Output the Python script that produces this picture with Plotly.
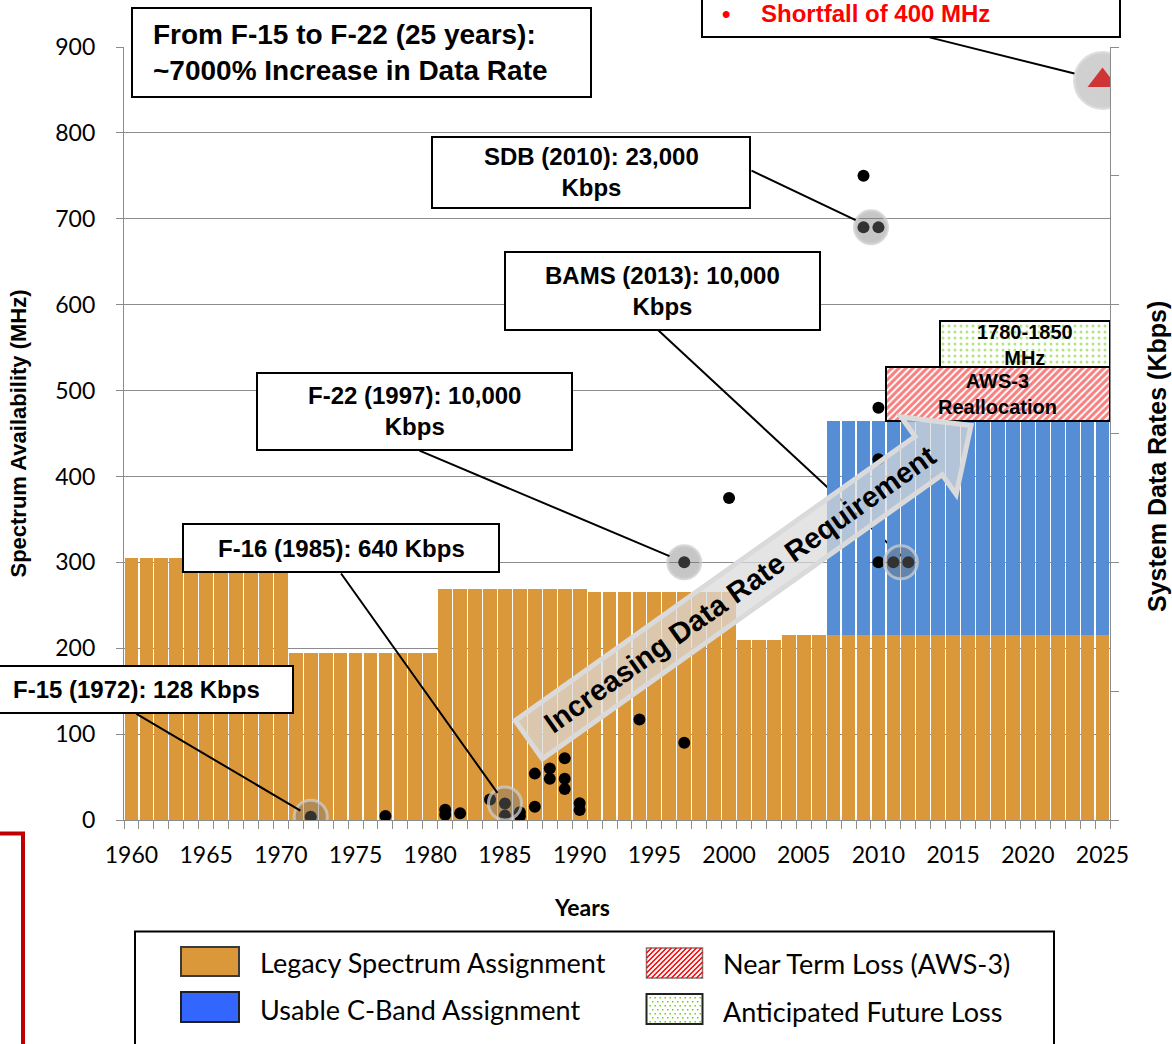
import math
import plotly.graph_objects as go

# ---------------- data ----------------
years = [1960, 1961, 1962, 1963, 1964, 1965, 1966, 1967, 1968, 1969,
         1970, 1971, 1972, 1973, 1974, 1975, 1976, 1977, 1978, 1979,
         1980, 1981, 1982, 1983, 1984, 1985, 1986, 1987, 1988, 1989,
         1990, 1991, 1992, 1993, 1994, 1995, 1996, 1997, 1998, 1999,
         2000, 2001, 2002, 2003, 2004, 2005, 2006, 2007, 2008, 2009,
         2010, 2011, 2012, 2013, 2014, 2015, 2016, 2017, 2018, 2019,
         2020, 2021, 2022, 2023, 2024, 2025]
legacy_mhz = [305, 305, 305, 305, 305, 305, 305, 305, 305, 305,
              305, 195, 195, 195, 195, 195, 195, 195, 195, 195,
              195, 269, 269, 269, 269, 269, 269, 269, 269, 269,
              269, 265, 265, 265, 265, 265, 265, 265, 265, 265,
              265, 210, 210, 210, 215, 215, 215, 215, 215, 215,
              215, 215, 215, 215, 215, 215, 215, 215, 215, 215,
              215, 215, 215, 215, 215, 215]
cband_years = [2007, 2008, 2009, 2010, 2011, 2012, 2013, 2014, 2015, 2016,
               2017, 2018, 2019, 2020, 2021, 2022, 2023, 2024, 2025]
cband_mhz = [250, 250, 250, 250, 250, 250, 250, 250, 250, 250,
             250, 250, 250, 250, 250, 250, 250, 250, 250]
aws3_years = [2010.5, 2025.5]      # near-term loss block (start, end)
aws3_mhz = [465, 528]              # (bottom, top)
future_years = [2014.15, 2025.5]   # anticipated future loss block
future_mhz = [528, 581]

sys_years = [1972, 1977, 1981, 1981, 1982, 1984, 1985, 1985, 1986, 1986,
             1987, 1987, 1988, 1988, 1989, 1989, 1989, 1990, 1990, 1994,
             1997, 1997, 2000, 2009, 2009, 2010, 2010, 2010, 2010, 2011, 2012]
sys_kbps = [128, 160, 400, 200, 260, 800, 640, 170, 300, 150,
            1800, 510, 2000, 1600, 2400, 1600, 1200, 650, 390, 3900,
            3000, 10000, 12500, 25000, 23000, 23000, 16000, 14000, 10000, 10000, 10000]
req_year = [2025]
req_kbps = [28700]
hl_years = [1972, 1985, 1997, 2009.5, 2011.5]
hl_kbps = [128, 640, 10000, 23000, 10000]
x_tick_years = [1960, 1965, 1970, 1975, 1980, 1985, 1990, 1995, 2000, 2005,
                2010, 2015, 2020, 2025]

# ---------------- layout geometry ----------------
FW, FH = 1172, 1044
ML, MR, MT, MB = 124, 62, 47, 224
PW, PH = FW - ML - MR, FH - MT - MB
X0, X1 = 1959.5, 2025.5
MHZ_MAX, KBPS_MAX = 900, 30000
BOTTOM = FH - MB


def px(x):
    return (x - ML) / PW


def py(y):
    return (BOTTOM - y) / PH


def to_year(x):
    return X0 + (x - ML) / PW * (X1 - X0)


def to_kbps(y):
    return (BOTTOM - y) / PH * KBPS_MAX


def to_mhz(y):
    return (BOTTOM - y) / PH * MHZ_MAX


ORANGE = '#DB983B'
BLUE = '#558ED5'
GRID = '#8C8C8C'
ARIAL = 'Liberation Sans, Arial, sans-serif'
CALIBRI = 'Lato, Carlito, Calibri, sans-serif'

fig = go.Figure()

# bars
fig.add_bar(x=years, y=legacy_mhz, width=0.92, marker=dict(color=ORANGE, line_width=0),
            name='Legacy Spectrum Assignment', showlegend=False)
cband_base = [legacy_mhz[years.index(y)] for y in cband_years]
fig.add_bar(x=cband_years, y=cband_mhz, base=cband_base, width=0.92,
            marker=dict(color=BLUE, line_width=0), name='Usable C-Band Assignment', showlegend=False)
fig.add_bar(x=[(aws3_years[0] + aws3_years[1]) / 2], y=[aws3_mhz[1] - aws3_mhz[0]], base=[aws3_mhz[0]],
            width=[aws3_years[1] - aws3_years[0]], name='Near Term Loss (AWS-3)', showlegend=False,
            marker=dict(color='white', line=dict(color='black', width=2),
                        pattern=dict(shape='/', fgcolor='#F00000', bgcolor='white', size=5, solidity=0.6)))
fig.add_bar(x=[(future_years[0] + future_years[1]) / 2], y=[future_mhz[1] - future_mhz[0]], base=[future_mhz[0]],
            width=[future_years[1] - future_years[0]], name='Anticipated Future Loss', showlegend=False,
            marker=dict(color='white', line=dict(color='black', width=2),
                        pattern=dict(shape='.', fgcolor='#66CC00', bgcolor='white', size=6, solidity=0.2)))

# system data-rate points (right axis)
fig.add_scatter(x=sys_years, y=sys_kbps, yaxis='y2', mode='markers', showlegend=False,
                marker=dict(size=12, color='black'), name='Systems')
fig.add_scatter(x=hl_years, y=hl_kbps, yaxis='y2', mode='markers', showlegend=False, hoverinfo='skip',
                marker=dict(size=33, color='rgba(120,120,120,0.42)',
                            line=dict(color='rgba(205,205,205,0.75)', width=3)))
fig.add_scatter(x=req_year, y=req_kbps, yaxis='y2', mode='markers', showlegend=False, hoverinfo='skip',
                marker=dict(size=56, color='rgba(150,150,150,0.45)',
                            line=dict(color='rgba(215,215,215,0.8)', width=3)))
fig.add_scatter(x=req_year, y=req_kbps, yaxis='y2', mode='markers', showlegend=False, name='Requirement',
                marker=dict(symbol='triangle-up', size=26, color='#D03535'))

shapes = []
annotations = []


def rect(x0, y0, x1, y1, fill='white', line='black', lw=2):
    shapes.append(dict(type='rect', xref='paper', yref='paper', x0=px(x0), x1=px(x1), y0=py(y1), y1=py(y0),
                       fillcolor=fill, line=dict(color=line, width=lw), layer='above'))


def text(x, y, s, size, color='black', family=ARIAL, weight='bold', xanchor='center', align='center', angle=0):
    annotations.append(dict(xref='paper', yref='paper', x=px(x), y=py(y), text=s, showarrow=False,
                            xanchor=xanchor, yanchor='middle', align=align, textangle=angle,
                            font=dict(family=family, size=size, color=color, weight=weight)))


def connector(tail, head_year, head_kbps, standoff):
    annotations.append(dict(xref='x', yref='y2', x=head_year, y=head_kbps,
                            axref='x', ayref='y2', ax=to_year(tail[0]), ay=to_kbps(tail[1]),
                            text='', showarrow=True, arrowhead=0, arrowwidth=2, arrowcolor='black',
                            standoff=standoff))


# BAMS connector drawn behind the bars
shapes.append(dict(type='line', xref='x', yref='y', x0=to_year(658), y0=to_mhz(330),
                   x1=2012, y1=10000 * MHZ_MAX / KBPS_MAX, layer='between',
                   line=dict(color='black', width=2)))

# big arrow
ang = math.radians(35.4)
ux, uy = math.cos(ang), -math.sin(ang)
nx, ny = math.sin(ang), math.cos(ang)
ox, oy = 526.8, 741.2


def apt(a, b):
    return ox + a * ux + b * nx, oy + a * uy + b * ny


poly = [apt(2.5, -23.5), apt(493, -23.5), apt(493, -47.5), apt(545, 0),
        apt(493, 47.5), apt(493, 23.5), apt(2.5, 23.5)]
path = 'M ' + ' L '.join(f'{px(a):.5f},{py(b):.5f}' for a, b in poly) + ' Z'
shapes.append(dict(type='path', xref='paper', yref='paper', path=path, layer='above',
                   fillcolor='rgba(218,218,218,0.72)', line=dict(color='#DADADA', width=5)))
cx, cy = apt(262, 0)
text(cx, cy, 'Increasing Data Rate Requirement', 29, angle=-35.4)

# callout boxes
rect(132, 8, 591, 97)
text(151, 53, 'From F-15 to F-22 (25 years):<br>~7000% Increase in Data Rate', 28, xanchor='left', align='left')

rect(432, 137, 750, 208)
text(591, 172, 'SDB (2010): 23,000<br>Kbps', 24)
connector((750, 170), 2009.5, 23000, 17)

rect(505, 252, 820, 330)
text(662, 291, 'BAMS (2013): 10,000<br>Kbps', 24)

rect(257, 373, 572, 450)
text(414, 411, 'F-22 (1997): 10,000<br>Kbps', 24)
connector((418, 450), 1997, 10000, 16)

rect(183, 524, 499, 572)
text(341, 548, 'F-16 (1985): 640 Kbps', 24)
connector((340, 572), 1985, 640, 13)

rect(-3, 666, 293, 713)
text(136, 689, 'F-15 (1972): 128 Kbps', 24)
connector((135, 713), 1972, 128, 12)

rect(702, -20, 1120, 37)
text(726, 13, '•', 24, color='#FF0000')
text(759, 13, 'Shortfall of 400 MHz', 24, color='#FF0000', xanchor='left')
connector((928, 37), 2025, 28700, 29)

# labels inside the loss blocks
annotations.append(dict(xref='x', yref='y', x=(aws3_years[0] + aws3_years[1]) / 2,
                        y=(aws3_mhz[0] + aws3_mhz[1]) / 2, text='AWS-3<br>Reallocation', showarrow=False,
                        font=dict(family=ARIAL, size=20, color='black', weight='bold')))
annotations.append(dict(xref='x', yref='y', x=(future_years[0] + future_years[1]) / 2,
                        y=(future_mhz[0] + future_mhz[1]) / 2 - 2, text='1780-1850<br>MHz', showarrow=False,
                        font=dict(family=ARIAL, size=20, color='black', weight='bold')))

# axis titles placed like the reference
text(582, 907, 'Years', 23, family=CALIBRI)
text(1157, 457, 'System Data Rates (Kbps)', 25, angle=-90)

# red frame fragment at bottom-left
shapes.append(dict(type='path', xref='paper', yref='paper', layer='above',
                   path=f'M {px(-5):.5f},{py(833.5):.5f} L {px(23):.5f},{py(833.5):.5f} L {px(23):.5f},{py(1060):.5f}',
                   line=dict(color='#C00000', width=4)))

# ---------------- manual legend ----------------
rect(135, 931.5, 1054, 1070)
rect(181, 947, 239, 976, fill=ORANGE, line='#3A3A3A')
rect(181, 992, 239, 1022, fill='#3366FF', line='#202020')
hx0, hy0, hx1, hy1 = 646.5, 948, 702.5, 978
rect(hx0, hy0, hx1, hy1, fill='white', line='#777777', lw=1.5)
segs = []
h = hy1 - hy0
c = hx0 - h
while c < hx1:
    t0 = max(0, hx0 - c)
    t1 = min(h, hx1 - c)
    if t1 > t0:
        segs.append(f'M {px(c + t0):.5f},{py(hy1 - t0):.5f} L {px(c + t1):.5f},{py(hy1 - t1):.5f}')
    c += 5
shapes.append(dict(type='path', xref='paper', yref='paper', path=' '.join(segs), layer='above',
                   line=dict(color='#FF0000', width=1.5)))
gx0, gy0, gx1, gy1 = 646.5, 994, 702.5, 1024
rect(gx0, gy0, gx1, gy1, fill='white', line='#222222')
dots = []
row = 0
yy = gy0 + 3
while yy < gy1 - 1:
    xx = gx0 + 3 + (2.5 if row % 2 else 0)
    while xx < gx1 - 1:
        dots.append(f'M {px(xx):.5f},{py(yy):.5f} L {px(xx + 1.4):.5f},{py(yy):.5f} '
                    f'L {px(xx + 1.4):.5f},{py(yy + 1.4):.5f} L {px(xx):.5f},{py(yy + 1.4):.5f} Z')
        xx += 5
    yy += 4
    row += 1
shapes.append(dict(type='path', xref='paper', yref='paper', path=' '.join(dots), layer='above',
                   fillcolor='#66CC00', line=dict(width=0)))
text(258, 962, 'Legacy Spectrum Assignment', 27, family=CALIBRI, weight='normal', xanchor='left')
text(258, 1009, 'Usable C-Band Assignment', 27, family=CALIBRI, weight='normal', xanchor='left')
text(721, 963, 'Near Term Loss (AWS-3)', 27, family=CALIBRI, weight='normal', xanchor='left')
text(721, 1011, 'Anticipated Future Loss', 27, family=CALIBRI, weight='normal', xanchor='left')

fig.update_layout(
    width=FW, height=FH, margin=dict(l=ML, r=MR, t=MT, b=MB),
    plot_bgcolor='white', paper_bgcolor='white', barmode='overlay', bargap=0,
    shapes=shapes, annotations=annotations, showlegend=False,
    xaxis=dict(range=[X0, X1], tickmode='array', tickvals=x_tick_years, ticks='', ticklen=0,
               showline=True, linecolor=GRID, linewidth=1.3, showgrid=False, zeroline=False,
               tickfont=dict(family=CALIBRI, size=23, color='black'), ticklabelstandoff=14,
               minor=dict(ticks='outside', ticklen=8, tickcolor=GRID, tickwidth=1.3,
                          tickmode='linear', tick0=X0, dtick=1, showgrid=False)),
    yaxis=dict(range=[0, MHZ_MAX], dtick=100, showgrid=True, gridcolor=GRID, gridwidth=1.3,
               showline=True, linecolor=GRID, linewidth=1.3, ticks='outside', ticklen=7,
               tickcolor=GRID, zeroline=False, ticklabelstandoff=16,
               tickfont=dict(family=CALIBRI, size=23, color='black'),
               title=dict(text='Spectrum Availability (MHz)', standoff=22,
                          font=dict(family=ARIAL, size=22, color='black', weight='bold'))),
    yaxis2=dict(range=[0, KBPS_MAX], dtick=5000, overlaying='y', side='right', showgrid=False,
                showline=True, linecolor=GRID, linewidth=1.3, ticks='outside', ticklen=8,
                tickcolor=GRID, showticklabels=False, zeroline=False),
)

fig.write_html('out.html', config={'displayModeBar': False},
               post_script="document.body.style.margin='0px';")
